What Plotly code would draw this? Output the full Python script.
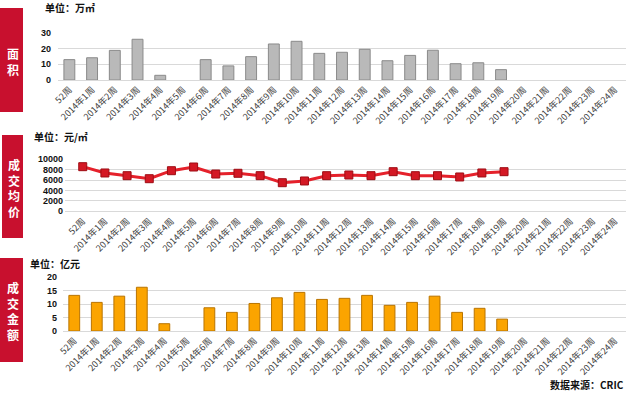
import plotly.graph_objects as go

categories = ["52周"] + [f"2014年{i}周" for i in range(1, 25)]

area_values = [13.0, 14.2, 18.9, 26.0, 3.0, 0, 13.0, 9.0, 14.9, 23.0, 24.7,
               17.0, 17.7, 19.6, 12.3, 15.7, 19.0, 10.4, 11.0, 6.6,
               None, None, None, None, None]
price_values = [8580, 7370, 6850, 6270, 7810, 8520, 7170, 7310, 6850, 5500, 5830,
                6850, 6980, 6850, 7620, 6850, 6850, 6600, 7370, 7620,
                None, None, None, None, None]
amount_values = [13.2, 10.6, 12.9, 16.2, 2.7, 0, 8.6, 6.9, 10.2, 12.3, 14.3,
                 11.7, 12.1, 13.2, 9.5, 10.6, 12.9, 6.9, 8.4, 4.4,
                 None, None, None, None, None]

panel_labels = ["面<br>积", "成<br>交<br>均<br>价", "成<br>交<br>金<br>额"]
unit_labels = ["单位：万㎡", "单位：元/㎡", "单位：亿元"]
source_label = "数据来源：CRIC"

W, H = 631, 393
FONT = "Liberation Sans, Noto Sans CJK SC, sans-serif"
CJK = "Noto Sans CJK SC, sans-serif"

def px(x):
    return x / W

def py(y):
    return 1 - y / H

def edge_widths(vals):
    return [1 if v else 0 for v in vals]

fig = go.Figure()

fig.add_trace(go.Bar(x=categories, y=area_values, xaxis="x", yaxis="y",
                     width=0.48,
                     marker=dict(color="#B9B9B9",
                                 line=dict(color="#8A8A8A", width=edge_widths(area_values)))))
fig.add_trace(go.Scatter(x=categories, y=price_values, xaxis="x2", yaxis="y2",
                         mode="lines+markers",
                         line=dict(color="#E5212B", width=3),
                         marker=dict(symbol="square", size=8, color="#D41824",
                                     line=dict(color="#9E0D14", width=1))))
fig.add_trace(go.Bar(x=categories, y=amount_values, xaxis="x3", yaxis="y3",
                     width=0.48,
                     marker=dict(color="#FBA400",
                                 line=dict(color="#B97400", width=edge_widths(amount_values)))))

grid = "#D9D9D9"
xcommon = dict(type="category", tickangle=-45, showgrid=False, zeroline=False,
               tickfont=dict(size=9, color="#404040", family=CJK),
               showline=True, linecolor=grid, linewidth=1, ticks="", automargin=False,
               categoryorder="array", categoryarray=categories)
ycommon = dict(showgrid=True, gridcolor=grid, gridwidth=1, zeroline=False,
               showline=False, ticks="", automargin=False, tickformat="d",
               tickfont=dict(size=9, color="#111111", family=FONT, weight="bold"))

fig.update_layout(
    width=W, height=H, margin=dict(l=0, r=0, t=0, b=0, autoexpand=False),
    paper_bgcolor="white", plot_bgcolor="white", showlegend=False,
    xaxis=dict(domain=[px(58), px(626)], anchor="y", range=[-0.5, 24.5], **xcommon),
    yaxis=dict(domain=[py(80), py(33)], anchor="x", range=[0, 30], dtick=10,
               ticklabelstandoff=6, **ycommon),
    xaxis2=dict(domain=[px(65), px(626)], anchor="y2", range=[-0.8, 24.5], **xcommon),
    yaxis2=dict(domain=[py(211.3), py(159.3)], anchor="x2", range=[0, 10000], dtick=2000,
                ticklabelstandoff=1, **ycommon),
    xaxis3=dict(domain=[px(63), px(626)], anchor="y3", range=[-0.5, 24.5], **xcommon),
    yaxis3=dict(domain=[py(331), py(277)], anchor="x3", range=[0, 20], dtick=5,
                ticklabelstandoff=5, **ycommon),
)

boxes = [(0, 8, 23, 112), (2, 135, 23, 238), (0, 258, 23, 362)]
for (x0, y0, x1, y1), lab in zip(boxes, panel_labels):
    fig.add_shape(type="rect", xref="paper", yref="paper",
                  x0=px(x0), x1=px(x1), y0=py(y1), y1=py(y0),
                  fillcolor="#C8102E", line=dict(width=0), layer="below")
    fig.add_annotation(xref="paper", yref="paper", x=px((x0 + x1) / 2 + 1),
                       y=py((y0 + y1) / 2 + 1), text=lab, showarrow=False,
                       font=dict(size=12, color="white", family=CJK, weight="bold"),
                       xanchor="center", yanchor="middle")

unit_pos = [(43, 8), (32, 137), (28, 263)]
for (ux, uy), lab in zip(unit_pos, unit_labels):
    fig.add_annotation(xref="paper", yref="paper", x=px(ux), y=py(uy), text=lab,
                       showarrow=False, xanchor="left", yanchor="middle",
                       font=dict(size=10, color="#111111", family=CJK, weight="bold"))

fig.add_annotation(xref="paper", yref="paper", x=px(626), y=py(384), text=source_label,
                   showarrow=False, xanchor="right", yanchor="middle",
                   font=dict(size=10, color="#111111", family=CJK, weight="bold"))

fig.write_html("out.html", config={"displayModeBar": False},
               post_script="document.body.style.margin='0';document.body.style.overflow='hidden';")
